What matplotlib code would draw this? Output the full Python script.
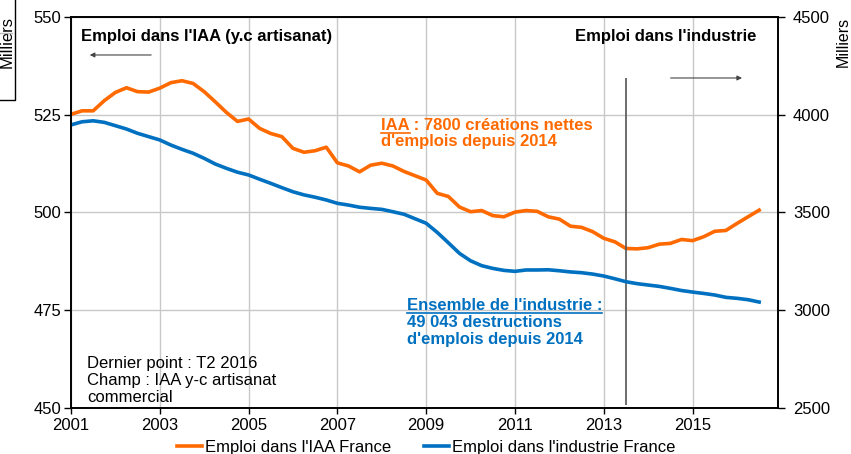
import matplotlib.pyplot as plt
from matplotlib.lines import Line2D

plt.rcParams['font.family'] = ['Liberation Sans', 'DejaVu Sans']

# quarterly values, 2001 onwards
iaa = [525.1, 526.0, 526.0, 528.6, 530.7, 531.9, 530.9, 530.8, 531.8, 533.2,
       533.7, 533.0, 530.9, 528.3, 525.6, 523.3, 523.9, 521.5, 520.2, 519.4,
       516.4, 515.4, 515.8, 516.7, 512.7, 511.9, 510.4, 512.1, 512.6, 511.9,
       510.5, 509.4, 508.3, 504.9, 504.1, 501.4, 500.2, 500.5, 499.2, 498.9,
       500.1, 500.5, 500.3, 498.9, 498.3, 496.5, 496.2, 495.1, 493.4, 492.5,
       490.8, 490.7, 491.0, 491.9, 492.1, 493.1, 492.8, 493.8, 495.2, 495.4,
       497.2, 498.9, 500.6]
industrie = [3948, 3964, 3969, 3961, 3944, 3927, 3905, 3888, 3871, 3845,
             3823, 3803, 3777, 3748, 3726, 3706, 3692, 3670, 3649, 3627,
             3606, 3590, 3578, 3564, 3547, 3538, 3527, 3521, 3516, 3504,
             3491, 3468, 3445, 3398, 3345, 3291, 3253, 3228, 3214, 3204,
             3199, 3206, 3206, 3207, 3202, 3196, 3192, 3185, 3175, 3161,
             3146, 3136, 3129, 3122, 3112, 3101, 3093, 3086, 3078, 3066,
             3061, 3054, 3042]
years = [2001 + i / 4 for i in range(len(iaa))]
year_ticks = [2001, 2003, 2005, 2007, 2009, 2011, 2013, 2015]
left_ticks = [450, 475, 500, 525, 550]
right_ticks = [2500, 3000, 3500, 4000, 4500]

orange = '#FF6A00'
blue = '#0070C0'
FS = 12

fig = plt.figure(figsize=(8.51, 4.54), dpi=100)
ax = fig.add_axes([0.0834, 0.1013, 0.8306, 0.8613])
ax2 = ax.twinx()


def px(x, y):
    # pixel position in the 851x454 image -> axes fraction
    return (x - 71) / 707, (408 - y) / 391


l1, = ax.plot(years, iaa, color=orange, lw=2.6, label="Emploi dans l'IAA France")
l2, = ax2.plot(years, industrie, color=blue, lw=2.6, label="Emploi dans l'industrie France")

ax.set_xlim(2001, 2016.92)
ax.set_ylim(450, 550)
ax2.set_ylim(2500, 4500)
ax.set_xticks(year_ticks)
ax.set_yticks(left_ticks)
ax2.set_yticks(right_ticks)
ax.grid(True, color='#C8C8C8', lw=1)
ax.set_axisbelow(True)
for a in (ax, ax2):
    a.tick_params(labelsize=FS, length=5, width=1, colors='black')
    for s in a.spines.values():
        s.set_linewidth(1.2)
ax.tick_params(axis='x', length=4, pad=3)
ax.tick_params(axis='y', pad=2)
ax2.tick_params(axis='y', pad=6)

ax.set_ylabel('Milliers', fontsize=FS)
ax.yaxis.set_label_coords(*px(15, 42))
ax2.set_ylabel('Milliers', fontsize=11.5, rotation=90)
ax2.yaxis.set_label_coords(*px(836, 42))

# vertical marker at 2014
ax.vlines(2013.5, 450.8, 534.5, color='#555555', lw=1.2)

bold = dict(fontsize=FS, fontweight='bold', va='baseline')
ax.text(*px(81, 41), "Emploi dans l'IAA (y.c artisanat)", transform=ax.transAxes,
        ha='left', **bold)
ax.text(*px(757, 41), "Emploi dans l'industrie", transform=ax.transAxes,
        ha='right', **bold)
ax.annotate('', xy=px(87, 55), xytext=px(154, 55), xycoords='axes fraction',
            arrowprops=dict(arrowstyle='-|>', color='#444444', lw=0.8, mutation_scale=7))
ax.annotate('', xy=px(745, 78), xytext=px(668, 78), xycoords='axes fraction',
            arrowprops=dict(arrowstyle='-|>', color='#444444', lw=0.8, mutation_scale=7))

iaa_lines = ["IAA : 7800 créations nettes", "d'emplois depuis 2014"]
ens_lines = ["Ensemble de l'industrie :", "49 043 destructions", "d'emplois depuis 2014"]
note_lines = ["Dernier point : T2 2016", "Champ : IAA y-c artisanat", "commercial"]

for s, y in zip(iaa_lines, (130, 146)):
    ax.text(*px(381, y), s, transform=ax.transAxes, color=orange, ha='left', **bold)
t_iaa = ax.text(*px(381, 130), "IAA", transform=ax.transAxes, ha='left', alpha=0, **bold)
for s, y in zip(ens_lines, (310, 327, 344)):
    ax.text(*px(407, y), s, transform=ax.transAxes, color=blue, ha='left', **bold)
t_ens = ax.text(*px(407, 310), ens_lines[0], transform=ax.transAxes, ha='left',
                alpha=0, **bold)
for s, y in zip(note_lines, (368, 385, 402)):
    ax.text(*px(87, y), s, transform=ax.transAxes, ha='left', va='baseline', fontsize=FS)

fig.legend(handles=[l1, l2], loc='center', bbox_to_anchor=(0.501, 0.014), ncol=2,
           frameon=False, fontsize=FS, handlelength=1.5, columnspacing=2.0,
           handletextpad=0.15)

# underline the headings
fig.canvas.draw()
r = fig.canvas.get_renderer()
for t, c, yb in ((t_iaa, orange, 130), (t_ens, blue, 310)):
    bb = t.get_window_extent(r).transformed(fig.transFigure.inverted())
    yy = (454 - yb - 2.5) / 454
    fig.add_artist(Line2D([bb.x0, bb.x1], [yy, yy], color=c, lw=1.2))

# stray frame on the left edge
fig.add_artist(Line2D([0.0, 0.0176, 0.0176], [0.78, 0.78, 1.0], color='black', lw=1))
fig.add_artist(Line2D([0.0, 0.014], [0.927, 0.927], color='#BBBBBB', lw=1))

fig.savefig('out.png', dpi=100)
